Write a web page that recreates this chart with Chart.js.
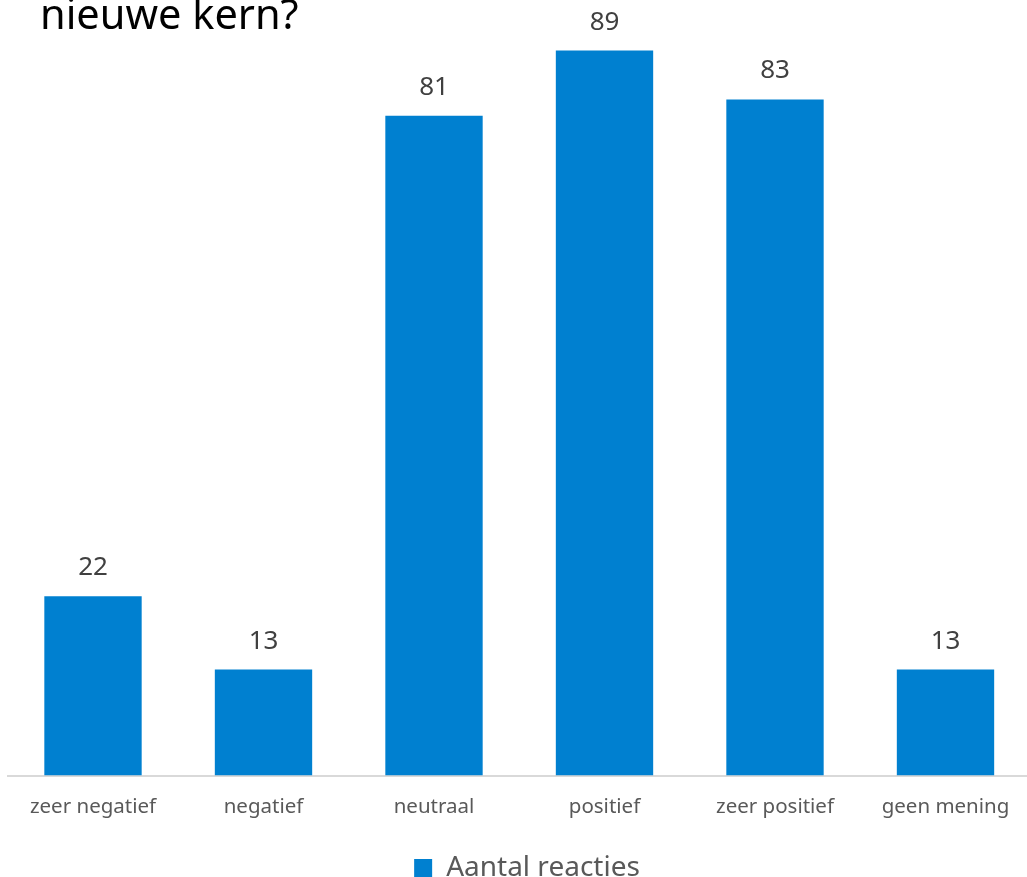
<!DOCTYPE html>
<html>
<head>
<meta charset="utf-8">
<script src="https://cdn.jsdelivr.net/npm/chart.js@4.4.1/dist/chart.umd.min.js"></script>
<style>
  html, body { margin: 0; padding: 0; background: #ffffff; overflow: hidden; width: 1027px; height: 877px; }
  #wrap { position: absolute; left: 0; top: 0; width: 1054px; height: 892px; }
  #title { position: absolute; left: 40px; top: -15px; font-family: "Noto Sans", sans-serif; font-size: 41.5px; color: #000; white-space: nowrap; z-index: 2; }
</style>
</head>
<body>
<div id="wrap"><canvas id="c" width="1054" height="892"></canvas></div>
<div id="title">nieuwe kern?</div>
<script>
const categories = ["zeer negatief", "negatief", "neutraal", "positief", "zeer positief", "geen mening"];
const seriesName = "Aantal reacties";
const values = [22, 13, 81, 89, 83, 13];

const barColor = "#0080d0";

const valueLabels = {
  id: "valueLabels",
  afterDatasetsDraw(chart) {
    const ctx = chart.ctx;
    const meta = chart.getDatasetMeta(0);
    ctx.save();
    ctx.font = '26px "Noto Sans", sans-serif';
    ctx.fillStyle = "#404040";
    ctx.textAlign = "center";
    ctx.textBaseline = "alphabetic";
    meta.data.forEach((bar, i) => {
      ctx.fillText(String(chart.data.datasets[0].data[i]), bar.x, bar.y - 21);
    });
    ctx.restore();
  }
};

new Chart(document.getElementById("c"), {
  type: "bar",
  data: {
    labels: categories,
    datasets: [{
      label: seriesName,
      data: values,
      backgroundColor: barColor,
      borderWidth: 0,
      categoryPercentage: 1,
      barPercentage: 0.571
    }]
  },
  options: {
    responsive: false,
    animation: false,
    layout: { padding: { left: 7.75, right: 7.75, top: 0, bottom: 0 } },
    plugins: {
      legend: {
        position: "bottom",
        labels: {
          boxWidth: 18, boxHeight: 18,
          color: "#595959",
          font: { family: "Noto Sans", size: 28 },
          padding: 6
        }
      },
      tooltip: { enabled: false }
    },
    scales: {
      x: {
        grid: { display: false },
        border: { display: true, color: "#d9d9d9", width: 2 },
        ticks: { color: "#595959", font: { family: "Noto Sans", size: 20.5 }, padding: 11, maxRotation: 0 },
        afterFit(scale) { scale.height = 72.5; }
      },
      y: {
        display: false,
        min: 0,
        max: 95.2
      },
      yPad: {
        type: "linear",
        position: "right",
        display: true,
        grid: { display: false, drawTicks: false },
        border: { display: false },
        ticks: { display: false },
        afterFit(scale) { scale.width = 15.5; }
      }
    }
  },
  plugins: [valueLabels]
});
</script>
</body>
</html>
